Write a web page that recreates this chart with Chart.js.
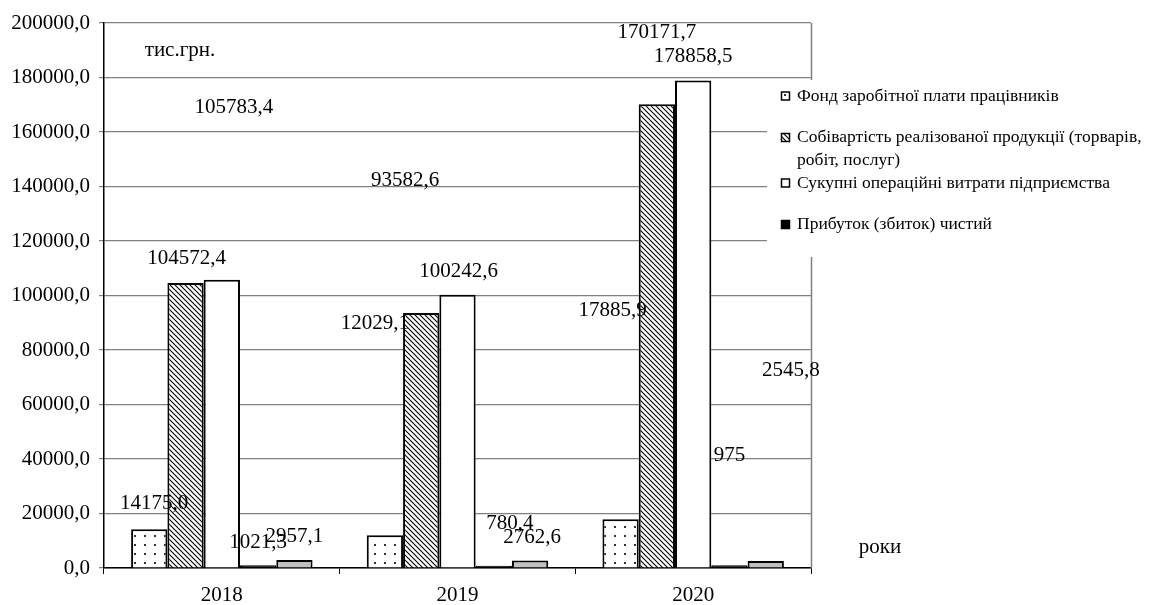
<!DOCTYPE html>
<html>
<head>
<meta charset="utf-8">
<script src="https://cdn.jsdelivr.net/npm/chart.js@4.4.1/dist/chart.umd.min.js"></script>
<style>
  html, body { margin: 0; padding: 0; background: #fff; }
  #wrap { width: 1151px; height: 605px; }
</style>
</head>
<body>
<div id="wrap"><canvas id="c" width="1151" height="605"></canvas></div>
<script>
// Categories and series (тис.грн.)
const years = ['2018', '2019', '2020'];
const wageFund = [14175.0, 12029.1, 17885.9];
const costOfSales = [104572.4, 93582.6, 170171.7];
const totalOpex = [105783.4, 100242.6, 178858.5];
const netProfit = [1021.3, 780.4, 975];
const otherCosts = [2957.1, 2762.6, 2545.8];

// Axis range
const yMin = 0, yMax = 200000, yStep = 20000;

// Decimal places shown in each value label
const wageDec = [1, 1, 1];
const costDec = [1, 1, 1];
const opexDec = [1, 1, 1];
const profitDec = [1, 1, 0];
const otherDec = [1, 1, 1];

// Legend captions (the grey series has no legend entry)
const legendWage = ['Фонд заробітної плати працівників'];
const legendCost = ['Собівартість реалізованої продукції (торварів,', 'робіт, послуг)'];
const legendOpex = ['Сукупні операційні витрати підприємства'];
const legendProfit = ['Прибуток (збиток) чистий'];

// Label placement relative to the top centre of each bar (px)
const wageLblOff = [[5, -26], [-10, -212], [-8, -209]];
const costLblOff = [[1, -25], [-16, -133], [0, -72]];
const opexLblOff = [[12, -172], [1, -23], [0, -24]];
const profitLblOff = [[0, -23], [16, -42], [0, -110]];
const otherLblOff = [[0, -23], [2, -23], [25, -191]];

const SERIF = '"Liberation Serif", "Times New Roman", serif';

function fmt(v, d) {
  return v.toFixed(d).replace('.', ',');
}

function makeDots() {
  const c = document.createElement('canvas');
  c.width = 10; c.height = 9;
  const g = c.getContext('2d');
  g.fillStyle = '#fff'; g.fillRect(0, 0, 10, 9);
  g.fillStyle = '#333';
  g.fillRect(4, 4, 2, 2);
  return document.getElementById('c').getContext('2d').createPattern(c, 'repeat');
}

function makeHatch() {
  const c = document.createElement('canvas');
  c.width = 5; c.height = 5;
  const g = c.getContext('2d');
  g.fillStyle = '#fff'; g.fillRect(0, 0, 5, 5);
  g.strokeStyle = '#000'; g.lineWidth = 1.1;
  g.beginPath();
  g.moveTo(-1, -1); g.lineTo(6, 6);
  g.moveTo(-1, 4); g.lineTo(1, 6);
  g.moveTo(4, -1); g.lineTo(6, 1);
  g.stroke();
  return document.getElementById('c').getContext('2d').createPattern(c, 'repeat');
}

const dots = makeDots();
const hatch = makeHatch();

const seriesDefs = [
  { label: legendWage.join(' '), data: wageFund, bg: dots, dec: wageDec, off: wageLblOff, legend: legendWage },
  { label: legendCost.join(' '), data: costOfSales, bg: hatch, dec: costDec, off: costLblOff, legend: legendCost },
  { label: legendOpex.join(' '), data: totalOpex, bg: '#ffffff', dec: opexDec, off: opexLblOff, legend: legendOpex },
  { label: legendProfit.join(' '), data: netProfit, bg: '#000000', dec: profitDec, off: profitLblOff, legend: legendProfit },
  { label: '', data: otherCosts, bg: '#c0c0c0', dec: otherDec, off: otherLblOff, legend: null }
];

// Frame: right edge of the plot area
const framePlugin = {
  id: 'frame',
  beforeDatasetsDraw(chart) {
    const { ctx, chartArea: a } = chart;
    ctx.save();
    ctx.strokeStyle = '#808080';
    ctx.lineWidth = 1.5;
    ctx.beginPath();
    ctx.moveTo(Math.round(a.right) + 0.5, a.top);
    ctx.lineTo(Math.round(a.right) + 0.5, a.bottom);
    ctx.stroke();
    ctx.restore();
  }
};

// Value labels and free text
const labelPlugin = {
  id: 'valueLabels',
  afterDatasetsDraw(chart) {
    const ctx = chart.ctx;
    ctx.save();
    ctx.fillStyle = '#000';
    ctx.font = '21px ' + SERIF;
    ctx.textAlign = 'center';
    ctx.textBaseline = 'middle';
    seriesDefs.forEach((s, di) => {
      const meta = chart.getDatasetMeta(di);
      meta.data.forEach((bar, i) => {
        const o = s.off[i];
        ctx.fillText(fmt(s.data[i], s.dec[i]), bar.x + o[0], bar.y + o[1]);
      });
    });
    const a = chart.chartArea;
    ctx.fillText('тис.грн.', a.left + 76, a.top + 27);
    ctx.fillText('роки', 880, a.bottom - 21);
    ctx.restore();
  }
};

// Legend box over the right part of the plot
const legendPlugin = {
  id: 'sideLegend',
  afterDraw(chart) {
    const ctx = chart.ctx;
    ctx.save();
    ctx.fillStyle = '#fff';
    ctx.fillRect(767, 80, 1151 - 767, 177);
    ctx.font = '17.5px ' + SERIF;
    ctx.textAlign = 'left';
    ctx.textBaseline = 'middle';
    let y = 96;
    seriesDefs.forEach(s => {
      if (!s.legend) return;
      ctx.fillStyle = s.bg;
      ctx.fillRect(781, y - 4.5, 9, 9);
      ctx.strokeStyle = '#000';
      ctx.lineWidth = 1.5;
      ctx.strokeRect(781.5, y - 4, 8, 8);
      ctx.fillStyle = '#000';
      s.legend.forEach((line, k) => {
        ctx.fillText(line, 797, y + k * 22.5);
      });
      y += 41.5 + (s.legend.length - 1) * 4;
    });
    ctx.restore();
  }
};

new Chart(document.getElementById('c'), {
  type: 'bar',
  data: {
    labels: years,
    datasets: seriesDefs.map(s => ({
      label: s.label,
      data: s.data,
      backgroundColor: s.bg,
      borderColor: '#000',
      borderWidth: 2,
      categoryPercentage: 0.77,
      barPercentage: 1.0
    }))
  },
  options: {
    responsive: false,
    animation: false,
    devicePixelRatio: 1,
    layout: { padding: { top: 23, right: 340, bottom: 0, left: 0 } },
    plugins: {
      legend: { display: false },
      tooltip: { enabled: false }
    },
    scales: {
      x: {
        afterFit(scale) { scale.height = 37; },
        grid: {
          display: true,
          offset: true,
          drawOnChartArea: false,
          drawTicks: true,
          tickLength: 6,
          color: '#000'
        },
        border: { display: true, color: '#000', width: 1.5 },
        ticks: {
          color: '#000',
          padding: 9,
          font: { family: SERIF, size: 21 }
        }
      },
      y: {
        min: yMin,
        max: yMax,
        afterFit(scale) { scale.width = 104; },
        grid: {
          color: '#808080',
          lineWidth: 1.2,
          tickLength: 5
        },
        border: { display: true, color: '#000', width: 1.5 },
        ticks: {
          stepSize: yStep,
          color: '#000',
          padding: 9,
          font: { family: SERIF, size: 21 },
          callback: v => fmt(v, 1)
        }
      }
    }
  },
  plugins: [framePlugin, labelPlugin, legendPlugin]
});
</script>
</body>
</html>
